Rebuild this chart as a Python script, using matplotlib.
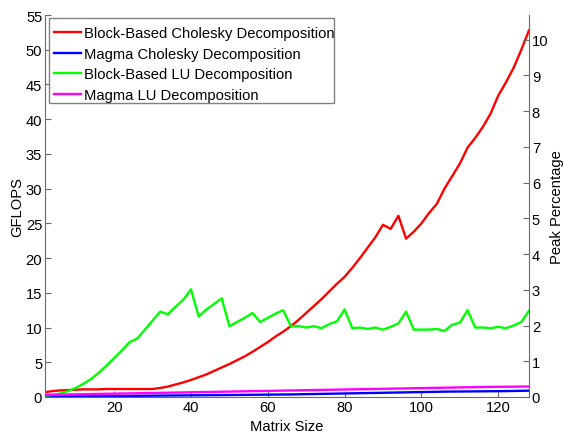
import matplotlib
matplotlib.use("Agg")
import matplotlib.pyplot as plt
from matplotlib.patches import Rectangle

plt.rcParams['font.family'] = ['Liberation Sans', 'DejaVu Sans']

matrix_size = list(range(2, 129, 2))

block_cholesky = [0.7, 0.85, 0.95, 1.0, 1.05, 1.1, 1.1, 1.1, 1.15, 1.15, 1.15, 1.15, 1.15, 1.15, 1.15, 1.3,
                  1.5, 1.8, 2.1, 2.45, 2.85, 3.25, 3.75, 4.25, 4.75, 5.3, 5.85, 6.5, 7.2, 7.9, 8.7, 9.4,
                  10.2, 11.1, 12.1, 13.1, 14.1, 15.2, 16.3, 17.3, 18.6, 20.0, 21.5, 23.0, 24.8, 24.2, 26.1, 22.8,
                  23.8, 25.0, 26.5, 27.8, 30.0, 31.8, 33.6, 35.9, 37.3, 38.9, 40.8, 43.4, 45.3, 47.4, 50.0, 52.8]

magma_cholesky = [0.05, 0.06, 0.07, 0.08, 0.09, 0.10, 0.11, 0.12, 0.13, 0.14, 0.15, 0.16, 0.17, 0.18, 0.19, 0.20,
                  0.21, 0.22, 0.23, 0.24, 0.25, 0.26, 0.27, 0.28, 0.29, 0.30, 0.31, 0.32, 0.33, 0.34, 0.35, 0.36,
                  0.37, 0.39, 0.41, 0.43, 0.45, 0.47, 0.49, 0.51, 0.53, 0.55, 0.57, 0.59, 0.61, 0.63, 0.65, 0.67,
                  0.69, 0.71, 0.73, 0.75, 0.77, 0.78, 0.79, 0.80, 0.81, 0.82, 0.83, 0.84, 0.85, 0.87, 0.89, 0.91]

block_lu = [0.2, 0.3, 0.5, 0.85, 1.3, 1.9, 2.6, 3.5, 4.5, 5.6, 6.7, 7.9, 8.4, 9.7, 11.0, 12.3,
            11.9, 13.0, 14.0, 15.5, 11.6, 12.6, 13.4, 14.2, 10.2, 10.8, 11.4, 12.1, 10.8, 11.4, 12.0, 12.5,
            10.2, 10.2, 10.0, 10.2, 9.9, 10.5, 10.9, 12.6, 9.9, 10.0, 9.8, 10.0, 9.7, 10.1, 10.6, 12.3,
            9.7, 9.7, 9.7, 9.8, 9.5, 10.4, 10.7, 12.5, 10.0, 10.0, 9.9, 10.1, 9.9, 10.3, 10.8, 12.4]

magma_lu = [0.30, 0.32, 0.34, 0.36, 0.38, 0.40, 0.42, 0.44, 0.46, 0.48, 0.50, 0.52, 0.54, 0.56, 0.58, 0.60,
            0.62, 0.64, 0.66, 0.68, 0.70, 0.72, 0.74, 0.76, 0.78, 0.80, 0.82, 0.84, 0.86, 0.88, 0.90, 0.92,
            0.94, 0.96, 0.98, 1.00, 1.02, 1.04, 1.06, 1.08, 1.10, 1.12, 1.14, 1.16, 1.18, 1.20, 1.22, 1.24,
            1.26, 1.28, 1.30, 1.32, 1.34, 1.36, 1.38, 1.40, 1.42, 1.44, 1.46, 1.47, 1.48, 1.49, 1.50, 1.51]

labels = ["Block-Based Cholesky Decomposition", "Magma Cholesky Decomposition",
          "Block-Based LU Decomposition", "Magma LU Decomposition"]
colors = ["#ff0000", "#0000ff", "#00ff00", "#ff00ff"]
series = [block_cholesky, magma_cholesky, block_lu, magma_lu]

gflops_ticks = list(range(0, 56, 5))
peak_ticks = list(range(0, 11))
x_ticks = [20, 40, 60, 80, 100, 120]
peak_gflops = 514.4  # GFLOPS corresponding to 100 %

FS = 10.6
fig = plt.figure(figsize=(5.64, 4.35), dpi=100)
ax = fig.add_axes([45/564, 1-398/435, 484/564, 382/435])
for y, c, lab in zip(series, colors, labels):
    ax.plot(matrix_size, y, color=c, lw=1.7, label=lab)

ax.set_xlim(2, 128)
ax.set_ylim(0, 55)
ax.set_xticks(x_ticks)
ax.set_yticks(gflops_ticks)
spine_col = "#6a6a6a"
for s in ["left", "bottom", "right"]:
    ax.spines[s].set_color(spine_col)
ax.spines["top"].set_visible(False)
ax.spines["right"].set_visible(False)
ax.tick_params(direction="in", length=4, width=0.8, color=spine_col, labelsize=FS, pad=2)
ax.set_xlabel("Matrix Size", fontsize=FS, labelpad=4)
ax.set_ylabel("GFLOPS", fontsize=FS, labelpad=1)

ax2 = ax.twinx()
ax2.set_ylim(0, 55 / peak_gflops * 100)
ax2.set_yticks(peak_ticks)
ax2.spines["top"].set_visible(False)
ax2.spines["left"].set_visible(False)
ax2.spines["bottom"].set_visible(False)
ax2.spines["right"].set_color(spine_col)
ax2.tick_params(direction="in", length=4, width=0.8, color=spine_col, labelsize=FS, pad=2)
ax2.set_ylabel("Peak Percentage", fontsize=FS, labelpad=1)

# legend frame (tight on the right, as in the reference)
frame = Rectangle((4/484, (398-104)/382), 285/484, (104-18.7)/382, transform=ax.transAxes,
                  facecolor="white", edgecolor="#808080", lw=1.0, zorder=4)
ax.add_patch(frame)
leg = ax.legend(loc="upper left", bbox_to_anchor=(2/484, (398-20.7)/382), borderaxespad=0,
                fontsize=FS, handlelength=1.85, handletextpad=0.22, labelspacing=0.44,
                borderpad=0.45, frameon=False)
leg.set_zorder(5)

fig.savefig("out.png", dpi=100)
